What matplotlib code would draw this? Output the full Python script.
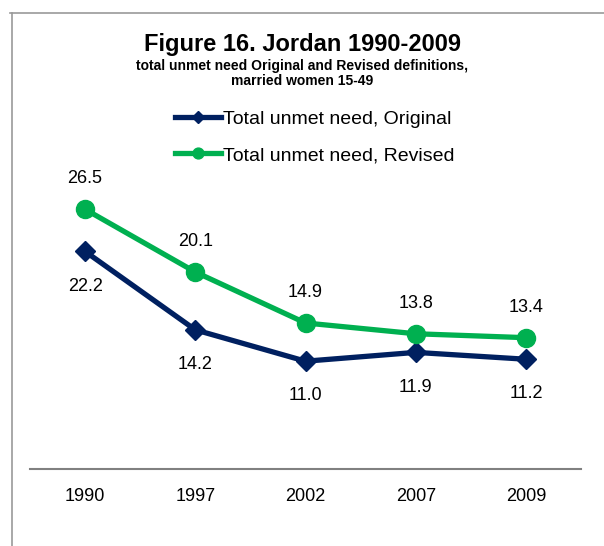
import matplotlib.pyplot as plt
from matplotlib.lines import Line2D

plt.rcParams['font.family'] = ['Liberation Sans', 'DejaVu Sans']

years = ['1990', '1997', '2002', '2007', '2009']
original = [22.2, 14.2, 11.0, 11.9, 11.2]
revised = [26.5, 20.1, 14.9, 13.8, 13.4]

NAVY = '#002060'
GREEN = '#00B050'

fig = plt.figure(figsize=(6.04, 5.46), dpi=100)

# outer frame (top and left edges only visible)
fig.add_artist(Line2D([10 / 604, 1], [1 - 13 / 546] * 2, color='#999999', lw=1.2))
fig.add_artist(Line2D([12 / 604] * 2, [0, 1 - 13 / 546], color='#999999', lw=1.2))

ax = fig.add_axes([30 / 604, 1 - 469 / 546, 551 / 604, 294 / 546])
x = range(len(years))
ax.plot(x, original, color=NAVY, lw=3.8, marker='D', markersize=10,
        label='Total unmet need, Original')
ax.plot(x, revised, color=GREEN, lw=3.8, marker='o', markersize=13,
        label='Total unmet need, Revised')

for i, v in enumerate(original):
    ax.annotate(f'{v:.1f}', (i, v), xytext=(0, -25), textcoords='offset points',
                ha='center', va='center', fontsize=13)
for i, v in enumerate(revised):
    ax.annotate(f'{v:.1f}', (i, v), xytext=(0, 22), textcoords='offset points',
                ha='center', va='center', fontsize=13)

ax.set_xlim(-0.5, len(years) - 0.5)
ax.set_ylim(0, 30)
ax.set_xticks(list(x))
ax.set_xticklabels(years, fontsize=13)
ax.tick_params(axis='x', length=0, pad=14)
ax.set_yticks([])
for s in ['top', 'right', 'left']:
    ax.spines[s].set_visible(False)
ax.spines['bottom'].set_color('#808080')
ax.spines['bottom'].set_linewidth(1.5)

fig.text(0.5, 1 - 44 / 546, 'Figure 16. Jordan 1990-2009', ha='center', va='center',
         fontsize=17, fontweight='bold')
fig.text(0.5, 1 - 66 / 546, 'total unmet need Original and Revised definitions,',
         ha='center', va='center', fontsize=10, fontweight='bold')
fig.text(0.5, 1 - 81 / 546, 'married women 15-49', ha='center', va='center',
         fontsize=10, fontweight='bold')

handles, labels = ax.get_legend_handles_labels()
fig.legend(handles, labels, loc='upper left', bbox_to_anchor=(157 / 604, 1 - 93 / 546),
           frameon=False, fontsize=14, handlelength=2.4, handletextpad=0.1,
           labelspacing=0.95, markerscale=0.6)

fig.savefig('out.png', dpi=100)
